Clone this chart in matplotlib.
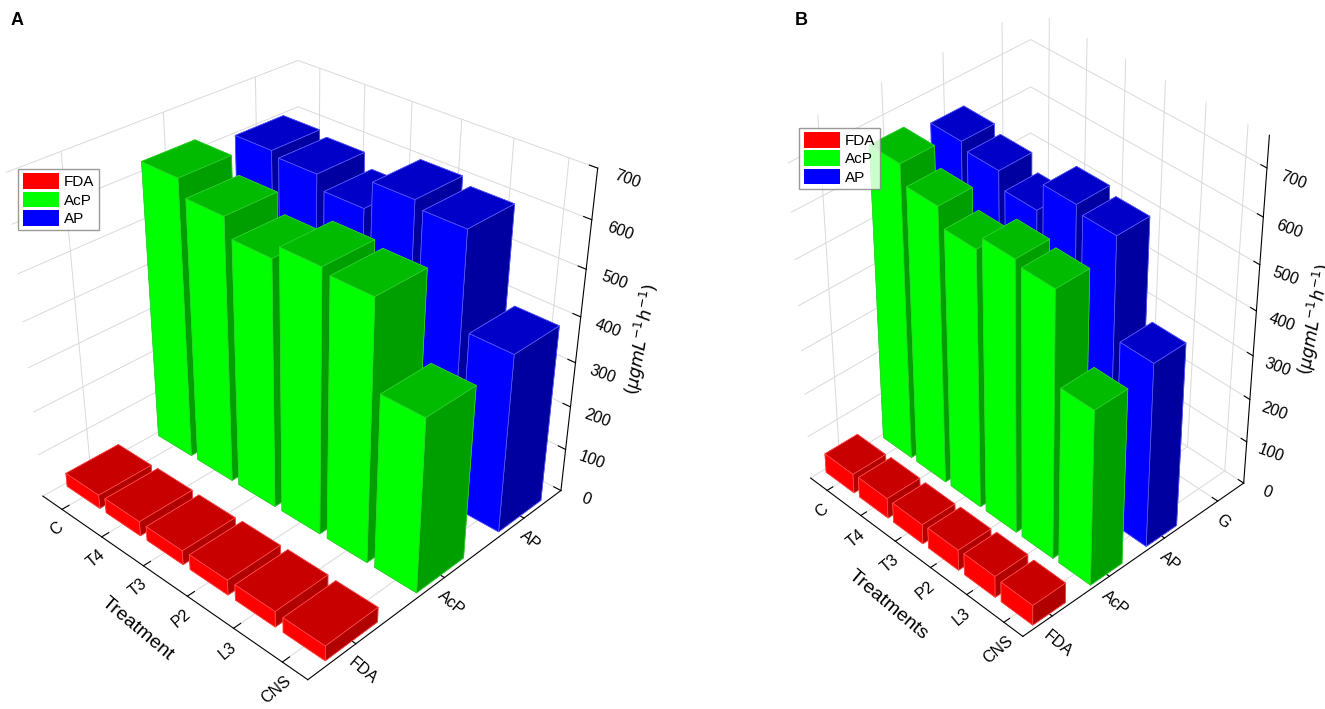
import numpy as np
import matplotlib.pyplot as plt
from matplotlib.patches import Patch
from matplotlib.ticker import MultipleLocator

plt.rcParams['font.family'] = ['Liberation Sans', 'DejaVu Sans']
plt.rcParams['grid.color'] = '#d9d9d9'
plt.rcParams['grid.linewidth'] = 0.7

treatments = ['C', 'T4', 'T3', 'P2', 'L3', 'CNS']
enzymes_a = ['FDA', 'AcP', 'AP']
enzymes_b = ['FDA', 'AcP', 'AP', 'G']

fda_a = [32, 34, 33, 35, 36, 34]
acp_a = [625, 590, 550, 580, 570, 385]
ap_a = [600, 590, 560, 620, 605, 400]

fda_b = [45, 47, 46, 48, 50, 47]
acp_b = [660, 620, 580, 610, 600, 400]
ap_b = [640, 625, 590, 650, 635, 420]

# light face, top face, dark face, edge
colors = {
    'FDA': ('#ff0000', '#c80000', '#b00000', '#ff5050'),
    'AcP': ('#00ff00', '#00bb00', '#009f00', '#30d030'),
    'AP': ('#0000ff', '#0000c8', '#0000a0', '#6060ff'),
}


def draw_panel(ax, enzymes, series, zmax, xlabel, elev, azim, focal):
    nx, ny = len(treatments), len(enzymes)
    az = np.radians(azim)
    for j, name in enumerate(['FDA', 'AcP', 'AP']):
        light, top, dark, edge = colors[name]
        for i, v in enumerate(series[j]):
            # faces: -z, +z, -y, +y, -x, +x
            fc = [dark, top, light, dark, light, dark]
            bar = ax.bar3d(i - 0.42, j - 0.28, 0, 0.84, 0.56, v, color=fc,
                           edgecolor=edge, linewidth=0.5, shade=False)
            bar.set_clip_on(False)
            depth = (i + 0.5) / nx * np.cos(az) + (j + 0.5) / ny * np.sin(az)
            bar.set_zorder(5 + depth)

    ax.set_xlim(-0.5, nx - 0.5)
    ax.set_ylim(-0.5, ny - 0.5)
    ax.set_zlim(0, zmax)
    ax.set_xticks(range(nx))
    ax.set_xticklabels(treatments, rotation=40, fontsize=11.5)
    ax.set_yticks(range(ny))
    ax.set_yticklabels(enzymes, rotation=-40, fontsize=11.5)
    ax.tick_params(axis='x', pad=-3)
    ax.tick_params(axis='y', pad=-3)
    ax.zaxis.set_major_locator(MultipleLocator(100))
    for t in ax.get_zticklabels():
        t.set_fontsize(11.5)
        t.set_rotation(-20)

    ax.xaxis.set_rotate_label(False)
    ax.set_xlabel(xlabel, fontsize=14, rotation=-40, labelpad=2)
    ax.zaxis.set_rotate_label(False)
    ax.set_zlabel(r'$(\mu gmL^{-1}h^{-1})$', fontsize=12.5, rotation=80, labelpad=6)
    ax.zaxis.set_ticks_position('upper')
    ax.zaxis.set_label_position('upper')

    for axis in (ax.xaxis, ax.yaxis, ax.zaxis):
        axis.set_pane_color((1, 1, 1, 0))
        axis.pane.set_edgecolor('#808080')
        axis.line.set_color('black')
        axis._axinfo['tick']['inward_factor'] = 0.0
        axis._axinfo['tick']['outward_factor'] = 0.3
    ax.view_init(elev=elev, azim=azim)
    ax.set_proj_type('persp', focal_length=focal)


fig = plt.figure(figsize=(13.25, 7.09), dpi=100)

ax_a = fig.add_axes([-0.012, 0.068, 0.468, 0.874], projection='3d',
                    computed_zorder=False)
draw_panel(ax_a, enzymes_a, [fda_a, acp_a, ap_a], 700, 'Treatment', 32, -46, 0.45)
ax_a.set_box_aspect((1, 1, 0.97), zoom=1.05)

ax_b = fig.add_axes([0.558, 0.148, 0.4226, 0.79], projection='3d',
                    computed_zorder=False)
draw_panel(ax_b, enzymes_b, [fda_b, acp_b, ap_b], 765, 'Treatments', 38, -44, 0.8)
ax_b.set_box_aspect((1, 1, 1.36), zoom=1.1)

handles = [Patch(facecolor=colors[k][0], edgecolor='none', label=k) for k in ['FDA', 'AcP', 'AP']]
for x0, y0 in [(0.0136, 0.762), (0.603, 0.82)]:
    fig.legend(handles=handles, loc='upper left', bbox_to_anchor=(x0, y0),
               fontsize=11, frameon=True, fancybox=False, edgecolor='#808080',
               handlelength=2.4, handleheight=1.2, handletextpad=0.3,
               labelspacing=0.15, borderpad=0.3, borderaxespad=0)

fig.text(0.008, 0.965, 'A', fontsize=13, fontweight='bold')
fig.text(0.600, 0.965, 'B', fontsize=13, fontweight='bold')

fig.savefig('out.png', dpi=100)
